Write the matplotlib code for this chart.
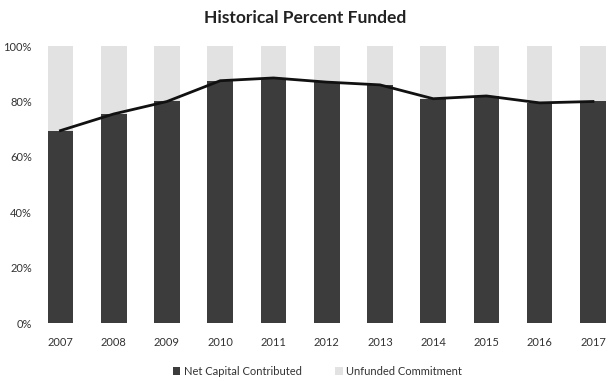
import matplotlib
matplotlib.use('Agg')
import matplotlib.pyplot as plt
import numpy as np

years = ['2007', '2008', '2009', '2010', '2011', '2012', '2013', '2014', '2015', '2016', '2017']
net_contributed = [0.695, 0.755, 0.80, 0.875, 0.885, 0.87, 0.86, 0.81, 0.82, 0.795, 0.80]
unfunded = [1 - v for v in net_contributed]

plt.rcParams['font.family'] = ['Lato', 'DejaVu Sans']

fig = plt.figure(figsize=(6.1, 3.81), dpi=100)
ax = fig.add_axes([0.066, 0.152, 0.934, 0.727])

x = np.arange(len(years))
ax.bar(x, net_contributed, width=0.48, color='#3c3c3c', label='Net Capital Contributed')
ax.bar(x, unfunded, width=0.48, bottom=net_contributed, color='#e2e2e2', label='Unfunded Commitment')
ax.plot(x, net_contributed, color='#111111', linewidth=2)

ax.set_xlim(-0.38, 10.32)
ax.set_ylim(0, 1)
ax.set_yticks(np.arange(0, 1.01, 0.2))
ax.set_yticklabels([f"{int(round(t * 100))}%" for t in np.arange(0, 1.01, 0.2)])
ax.set_xticks(x)
ax.set_xticklabels(years)
ax.tick_params(length=0, labelsize=8, colors='#333333')
ax.tick_params(axis='x', pad=10)
ax.tick_params(axis='y', pad=6)
for s in ax.spines.values():
    s.set_visible(False)

fig.text(0.5, 0.952, 'Historical Percent Funded', ha='center', va='center',
         fontsize=12.5, fontweight='bold', color='#222222')

leg = fig.legend(loc='center', bbox_to_anchor=(0.52, 0.025), ncol=2, frameon=False,
                 fontsize=8, handlelength=0.7, handleheight=0.7, columnspacing=3.0,
                 handletextpad=0.3)
for t in leg.get_texts():
    t.set_color('#333333')

fig.savefig('out.png', dpi=100)
